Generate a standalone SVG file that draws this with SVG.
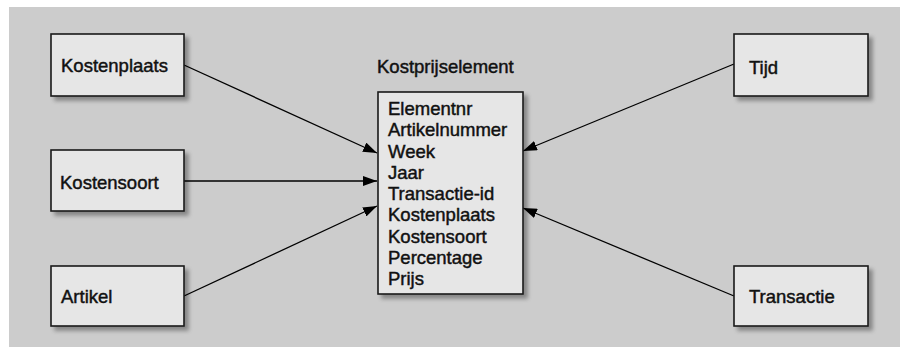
<svg xmlns="http://www.w3.org/2000/svg" width="904" height="347" viewBox="0 0 904 347">
<defs>
<filter id="sh" x="-10%" y="-10%" width="130%" height="130%">
<feGaussianBlur in="SourceAlpha" stdDeviation="2"/>
<feOffset dx="4" dy="4" result="b"/>
<feComponentTransfer in="b" result="s"><feFuncA type="linear" slope="0.35"/></feComponentTransfer>
<feMerge><feMergeNode in="s"/><feMergeNode in="SourceGraphic"/></feMerge>
</filter>
<marker id="arr" viewBox="0 0 14 10" refX="14" refY="5" markerWidth="14" markerHeight="10" markerUnits="userSpaceOnUse" orient="auto">
<path d="M0,0 L14,5 L0,10 Z" fill="#000"/>
</marker>
</defs>
<style>
.box{fill:#e6e6e6;stroke:#1a1a1a;stroke-width:1.6;filter:url(#sh)}
.t{font-family:"Liberation Sans",Arial,sans-serif;font-size:18.5px;fill:#111;stroke:#111;stroke-width:0.45}
.c{stroke:#000;stroke-width:1.3;fill:none;marker-end:url(#arr)}
</style>
<rect x="9" y="7" width="891" height="340" fill="#cccccc"/>
<g id="connectors">
<line class="c" x1="184" y1="65" x2="377" y2="153"/>
<line class="c" x1="184" y1="181" x2="377" y2="181"/>
<line class="c" x1="184" y1="296" x2="377" y2="206"/>
<line class="c" x1="734" y1="64" x2="523" y2="151"/>
<line class="c" x1="734" y1="296" x2="523" y2="208"/>
</g>
<g id="kostenplaats"><rect class="box" x="51" y="34" width="133" height="62"/><text class="t" x="61" y="72">Kostenplaats</text></g>
<g id="kostensoort"><rect class="box" x="51" y="150" width="133" height="61"/><text class="t" x="60" y="189">Kostensoort</text></g>
<g id="artikel"><rect class="box" x="51" y="266" width="133" height="60"/><text class="t" x="61" y="303">Artikel</text></g>
<g id="tijd"><rect class="box" x="734" y="34" width="134" height="62"/><text class="t" x="749" y="74">Tijd</text></g>
<g id="transactie"><rect class="box" x="734" y="266" width="134" height="60"/><text class="t" x="749" y="303">Transactie</text></g>
<g id="kostprijselement">
<text class="t" x="377" y="73">Kostprijselement</text>
<rect class="box" x="378" y="92" width="145" height="202"/>
<text class="t" x="388" y="115">Elementnr</text>
<text class="t" x="388" y="136.25">Artikelnummer</text>
<text class="t" x="388" y="157.5">Week</text>
<text class="t" x="388" y="178.75">Jaar</text>
<text class="t" x="388" y="200">Transactie-id</text>
<text class="t" x="388" y="221.25">Kostenplaats</text>
<text class="t" x="388" y="242.5">Kostensoort</text>
<text class="t" x="388" y="263.75">Percentage</text>
<text class="t" x="388" y="285">Prijs</text>
</g>
</svg>
